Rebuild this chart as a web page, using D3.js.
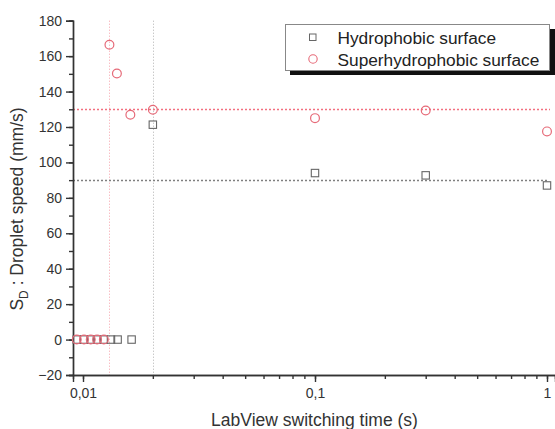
<!DOCTYPE html>
<html><head><meta charset="utf-8">
<script src="https://cdn.jsdelivr.net/npm/d3@7"></script>
<style>body{margin:0;background:#fff}svg{display:block;font-family:Arial,"Liberation Sans",sans-serif}</style>
</head><body><svg id="c" width="555" height="429"></svg>
<script>
const xTickValues = [0.01, 0.1, 1];
const xTickLabels = ["0,01", "0,1", "1"];
const yTickValues = [-20, 0, 20, 40, 60, 80, 100, 120, 140, 160, 180];
const hydroX = [0.0094, 0.0101, 0.0108, 0.0115, 0.0123, 0.0132, 0.0141, 0.0162, 0.02, 0.1, 0.3, 1];
const hydroY = [0, 0, 0, 0, 0, 0, 0, 0, 121.3, 94, 92.7, 87];
const superX = [0.0094, 0.0101, 0.0108, 0.0115, 0.0123, 0.013, 0.014, 0.016, 0.02, 0.1, 0.3, 1];
const superY = [0, 0, 0, 0, 0, 166.4, 150.2, 126.9, 129.7, 125, 129.3, 117.5];
const refHydroY = 90, refSuperY = 130;
const refHydroX = 0.02, refSuperX = 0.013;
const seriesNames = ["Hydrophobic surface", "Superhydrophobic surface"];

const svg = d3.select("#c");
let x = d3.scaleLog().domain([0.01, 1]).range([83, 547]);
x = d3.scaleLog().domain([x.invert(73), x.invert(555)]).range([73, 555]);
const y = d3.scaleLinear().domain([-20, 180]).range([375, 20.7]);
const snap = v => Math.round(v) + 0.5;

const red = "#e66a78", gray = "#666";

// reference lines
const g = svg.append("g");
g.append("line").attr("x1", snap(x(refSuperX))).attr("x2", snap(x(refSuperX))).attr("y1", y(180)).attr("y2", y(-20))
  .attr("stroke", "#f6a0aa").attr("stroke-width", 1).attr("stroke-dasharray", "1,2");
g.append("line").attr("x1", snap(x(refHydroX))).attr("x2", snap(x(refHydroX))).attr("y1", y(180)).attr("y2", y(-20))
  .attr("stroke", "#b0b0b0").attr("stroke-width", 1).attr("stroke-dasharray", "1,2");
g.append("line").attr("x1", x.range()[0]).attr("x2", 550).attr("y1", snap(y(refSuperY))).attr("y2", snap(y(refSuperY)))
  .attr("stroke", "#f27080").attr("stroke-width", 1.3).attr("stroke-dasharray", "2,2");
g.append("line").attr("x1", x.range()[0]).attr("x2", 547).attr("y1", snap(y(refHydroY))).attr("y2", snap(y(refHydroY)))
  .attr("stroke", "#808080").attr("stroke-width", 1.3).attr("stroke-dasharray", "2,2");

// axes
const minorX = [];
for (let d = 0.001; d < 10; d *= 10) for (let k = 1; k < 10; k++) {
  const v = d * k; if (v >= x.domain()[0] && v <= x.domain()[1]) minorX.push(v);
}
const xAxisMinor = d3.axisBottom(x).tickValues(minorX).tickSize(4).tickFormat("");
const xAxis = d3.axisBottom(x).tickValues(xTickValues).tickSize(7).tickPadding(6)
  .tickFormat((d, i) => xTickLabels[i]);
const minorY = d3.range(-20, 181, 10);
const yAxisMinor = d3.axisLeft(y).tickValues(minorY).tickSize(4).tickFormat("");
const yAxis = d3.axisLeft(y).tickValues(yTickValues).tickSize(7).tickPadding(4);

function style(sel) {
  sel.selectAll("path,line").attr("stroke", "#333").attr("stroke-width", 1.4);
  sel.selectAll("text").attr("fill", "#333").style("font-size", "14px").style("font-family", "Arial, 'Liberation Sans', sans-serif");
}
svg.append("g").attr("transform", `translate(0,${y(-20)})`).call(xAxisMinor).call(style);
svg.append("g").attr("transform", `translate(0,${y(-20)})`).call(xAxis).call(style);
svg.append("g").attr("transform", `translate(73,0)`).call(yAxisMinor).call(style);
svg.append("g").attr("transform", `translate(73,0)`).call(yAxis).call(style);

// data
const hydro = hydroX.map((v, i) => [v, hydroY[i]]);
const sup = superX.map((v, i) => [v, superY[i]]);
svg.append("g").selectAll("rect").data(hydro).join("rect")
  .attr("x", d => x(d[0]) - 3.7).attr("y", d => y(d[1]) - 3.7).attr("width", 7.4).attr("height", 7.4)
  .attr("fill", "none").attr("stroke", gray).attr("stroke-width", 1.1);
svg.append("g").selectAll("circle").data(sup).join("circle")
  .attr("cx", d => x(d[0])).attr("cy", d => y(d[1])).attr("r", 4.4)
  .attr("fill", "none").attr("stroke", red).attr("stroke-width", 1.2);

// axis titles
svg.append("text").attr("x", 314.5).attr("y", 426).attr("text-anchor", "middle")
  .style("font-size", "17.5px").attr("fill", "#333").text("LabView switching time (s)");
const yt = svg.append("text").attr("transform", "translate(23,209) rotate(-90)").attr("text-anchor", "middle")
  .style("font-size", "17.5px").attr("fill", "#333");
yt.append("tspan").text("S");
yt.append("tspan").attr("dy", 5).style("font-size", "12px").text("D");
yt.append("tspan").attr("dy", -5).text(" : Droplet speed (mm/s)");

// legend
const lg = svg.append("g");
lg.append("rect").attr("x", 290).attr("y", 29).attr("width", 265).attr("height", 46).attr("fill", "#111");
lg.append("rect").attr("x", 285.5).attr("y", 24.5).attr("width", 264).attr("height", 46)
  .attr("fill", "#fff").attr("stroke", "#888").attr("stroke-width", 1);
lg.append("rect").attr("x", 309.5).attr("y", 34).attr("width", 6.5).attr("height", 6.5)
  .attr("fill", "none").attr("stroke", gray).attr("stroke-width", 1);
lg.append("circle").attr("cx", 313).attr("cy", 59).attr("r", 4.2)
  .attr("fill", "none").attr("stroke", red).attr("stroke-width", 1.1);
lg.append("text").attr("x", 337.5).attr("y", 43.5).style("font-size", "17.3px").attr("fill", "#222").text(seriesNames[0]);
lg.append("text").attr("x", 337.5).attr("y", 65.5).style("font-size", "17.3px").attr("fill", "#222").text(seriesNames[1]);
</script></body></html>
